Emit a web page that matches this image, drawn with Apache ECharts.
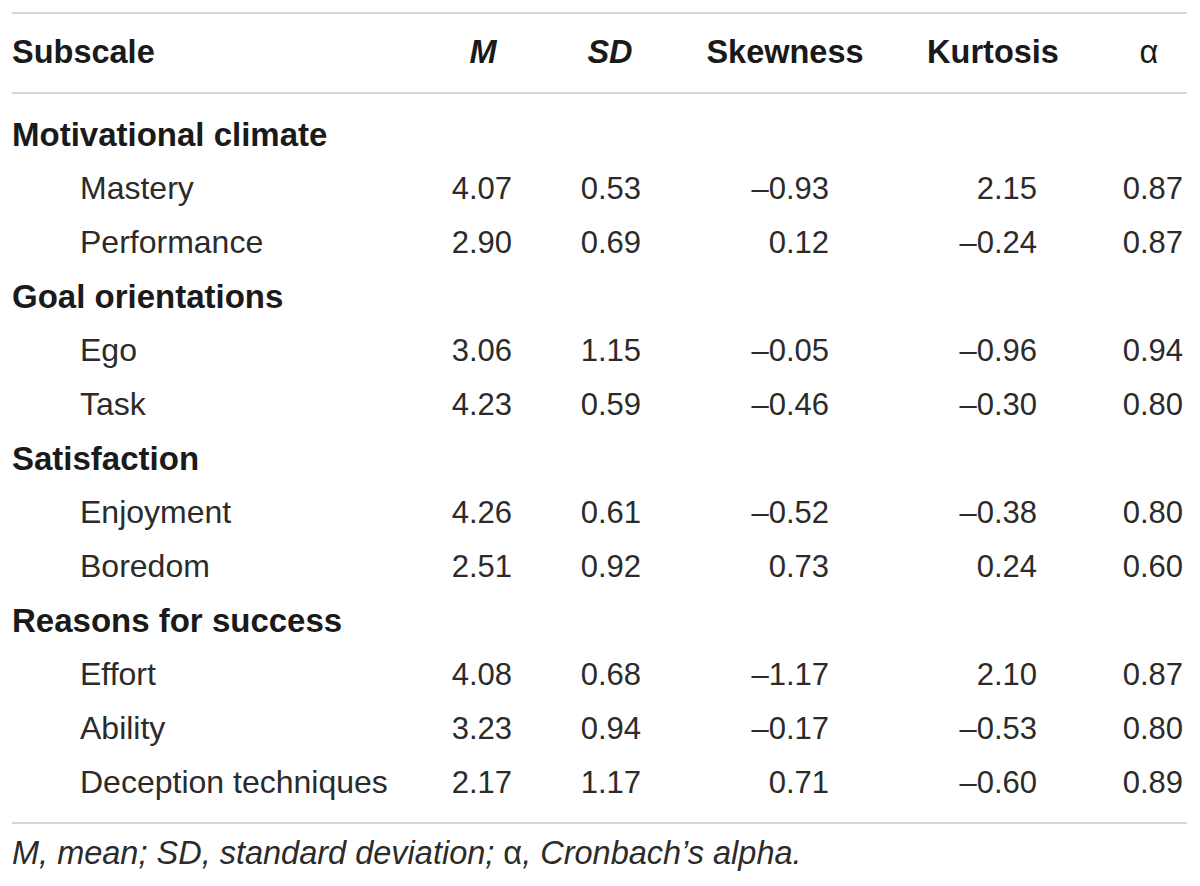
<!DOCTYPE html>
<html>
<head>
<meta charset="utf-8">
<title>Subscale descriptives</title>
<script src="https://cdn.jsdelivr.net/npm/echarts@6/dist/echarts.min.js"></script>
<style>
  html, body { margin: 0; padding: 0; background: #ffffff; }
  #table-chart { width: 1200px; height: 886px; }
</style>
</head>
<body>
<div id="table-chart"></div>
<script>
// ---- data ----
const headers = ['Subscale', 'M', 'SD', 'Skewness', 'Kurtosis', 'α'];
const rowLabels = [
    'Motivational climate', 'Mastery', 'Performance',
    'Goal orientations', 'Ego', 'Task',
    'Satisfaction', 'Enjoyment', 'Boredom',
    'Reasons for success', 'Effort', 'Ability', 'Deception techniques'
];
const isGroup = [true, false, false, true, false, false, true, false, false, true, false, false, false];
const meanValues     = [null, 4.07, 2.90, null, 3.06, 4.23, null, 4.26, 2.51, null, 4.08, 3.23, 2.17];
const sdValues       = [null, 0.53, 0.69, null, 1.15, 0.59, null, 0.61, 0.92, null, 0.68, 0.94, 1.17];
const skewValues     = [null, -0.93, 0.12, null, -0.05, -0.46, null, -0.52, 0.73, null, -1.17, -0.17, 0.71];
const kurtValues     = [null, 2.15, -0.24, null, -0.96, -0.30, null, -0.38, 0.24, null, 2.10, -0.53, -0.60];
const alphaValues    = [null, 0.87, 0.87, null, 0.94, 0.80, null, 0.80, 0.60, null, 0.87, 0.80, 0.89];
const footnote = ['M, mean; SD, standard deviation; ', 'α', ', Cronbach’s alpha.'];

// ---- layout (pixels on x, row index on y) ----
const FONT = "'Liberation Sans', Arial, Helvetica, sans-serif";
const TEXT = '#2b2b2b';
const BOLD_TEXT = '#1a1a1a';
const groupX = 12;
const itemX = 80;
const numRight = [512, 641, 829, 1037, 1183];
const headCenter = [483, 610, 785, 993, 1149];
const rowTop = 134;   // pixel centre of first body row
const rowStep = 54;   // pixel height of one row
const toRow = px => (px - rowTop) / rowStep;
const headerRow = toRow(52);
const ruleRows = [toRow(12.5), toRow(93), toRow(823)];
const footRow = toRow(853);

function fmt(v) {
    return v.toFixed(2).replace('-', '–');
}

// text-only scatter series: symbol hidden, label carries the cell
function textSeries(data, label) {
    return {
        type: 'scatter',
        symbolSize: 0,
        silent: true,
        itemStyle: { opacity: 1 },
        data: data,
        label: Object.assign({
            show: true,
            position: [0, 0],
            verticalAlign: 'middle',
            fontFamily: FONT
        }, label)
    };
}

function numberSeries(values, colIdx) {
    return textSeries(
        values.map((v, i) => v === null ? null : [numRight[colIdx], i, v]).filter(d => d),
        { align: 'right', formatter: p => fmt(p.value[2]), fontSize: 31, color: TEXT }
    );
}

const chart = echarts.init(document.getElementById('table-chart'), null, { renderer: 'svg' });

const headerData = headers.slice(1).map((h, i) => ({
    value: [headCenter[i], headerRow, h],
    label: {
        fontStyle: (h === 'M' || h === 'SD') ? 'italic' : 'normal',
        fontWeight: h === 'α' ? 'normal' : 'bold'
    }
}));
headerData.unshift({
    value: [groupX, headerRow, headers[0]],
    label: { align: 'left' }
});

const headerSeries = textSeries(headerData, {
    align: 'center', formatter: p => p.value[2],
    fontSize: 32.5, fontWeight: 'bold', color: BOLD_TEXT
});
headerSeries.markLine = {
    silent: true,
    symbol: 'none',
    label: { show: false },
    lineStyle: { color: '#c9c9c9', width: 1.5, type: 'solid', opacity: 1 },
    data: ruleRows.map(r => [{ coord: [groupX, r] }, { coord: [1187, r] }])
};

const option = {
    animation: false,
    backgroundColor: '#ffffff',
    grid: { left: 0, right: 0, top: 0, bottom: 0 },
    xAxis: { type: 'value', min: 0, max: 1200, show: false },
    yAxis: {
        type: 'value', inverse: true, show: false,
        min: toRow(0), max: toRow(886)
    },
    series: [
        headerSeries,
        // group headings
        textSeries(
            rowLabels.map((r, i) => isGroup[i] ? [groupX, i, r] : null).filter(d => d),
            { align: 'left', formatter: p => p.value[2], fontSize: 33, fontWeight: 'bold', color: BOLD_TEXT }
        ),
        // subscale items
        textSeries(
            rowLabels.map((r, i) => isGroup[i] ? null : [itemX, i, r]).filter(d => d),
            { align: 'left', formatter: p => p.value[2], fontSize: 32, color: TEXT }
        ),
        numberSeries(meanValues, 0),
        numberSeries(sdValues, 1),
        numberSeries(skewValues, 2),
        numberSeries(kurtValues, 3),
        numberSeries(alphaValues, 4),
        // footnote
        textSeries([[groupX, footRow, 0]], {
            align: 'left',
            formatter: () => '{it|' + footnote[0] + '}{up|' + footnote[1] + '}{it|' + footnote[2] + '}',
            rich: {
                it: { fontFamily: FONT, fontSize: 32.5, fontStyle: 'italic', color: TEXT },
                up: { fontFamily: FONT, fontSize: 32.5, color: TEXT }
            }
        })
    ]
};

chart.setOption(option);
window.addEventListener('resize', function () {
    chart.resize();
});
</script>
</body>
</html>
